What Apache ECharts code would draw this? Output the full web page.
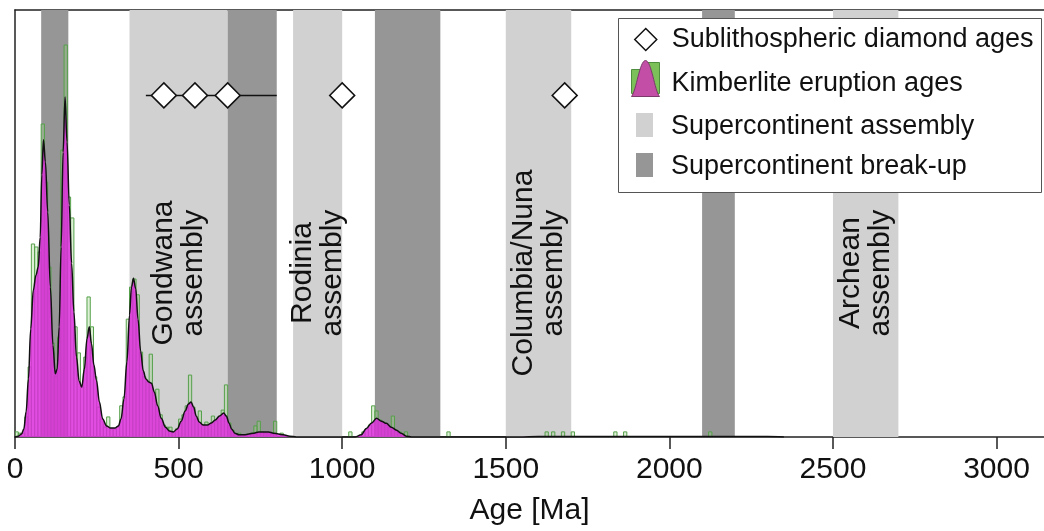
<!DOCTYPE html>
<html><head><meta charset="utf-8">
<script src="https://cdn.jsdelivr.net/npm/echarts@6/dist/echarts.min.js"></script>
<style>html,body{margin:0;padding:0;background:#fff}#c{width:1044px;height:531px}</style>
</head><body><div id="c"></div>
<script>
// ---- data ----
const binWidth = 10; // Ma
const histBinStarts = [0,10,20,30,40,50,60,70,80,90,100,110,120,130,140,150,160,170,180,190,
  200,210,220,230,240,250,260,270,280,290,300,310,320,330,340,350,360,370,380,390,
  400,410,420,430,440,450,460,470,480,490,500,510,520,530,540,550,560,570,580,590,
  600,610,620,630,640,650,660,670,680,690,710,720,730,740,750,760,780,790,810,
  1020,1060,1070,1080,1090,1100,1110,1120,1130,1140,1150,1160,1170,1180,1190,
  1320,1620,1640,1670,1700,1830,1860,2120];
const histCounts = [1.2,0.9,0.9,4.7,16.4,45.2,44.5,43.3,73.3,59.7,39.8,22.0,14.1,23.4,67.2,91.8,56.2,51.3,25.8,19.7,
  11.7,18.7,32.8,25.8,14.1,7.0,4.2,2.3,4.7,1.9,1.9,2.3,7.3,9.4,27.6,35.1,37.0,33.3,19.9,14.1,
  12.9,19.4,10.5,11.2,5.2,2.8,2.3,2.3,1.2,1.9,4.2,5.2,7.3,14.5,7.0,4.2,6.1,2.8,3.5,2.8,
  4.9,3.7,4.7,6.3,12.2,3.3,1.6,0.7,0.9,0.5,0.7,0.9,2.6,3.7,1.2,0.9,0.7,3.7,0.9,
  1.2,1.2,1.9,2.8,7.3,6.1,4.0,3.5,2.8,2.3,4.9,1.6,1.2,0.7,1.2,
  1.2,1.2,1.2,1.2,1.2,1.2,1.2,1.2];

const kdeAges = [0,10,20,27,34,41,48,56,64,71,77,82,87,93,100,108,116,123,129,135,141,147,153,159,166,173,180,188,196,
  204,212,220,227,234,241,249,258,268,280,292,305,316,324,333,342,350,356,362,369,376,384,392,400,409,417,426,436,447,
  460,472,484,496,508,520,530,538,546,554,563,575,588,600,612,625,638,646,654,662,672,685,700,715,730,745,760,775,790,
  805,820,840,860,1040,1058,1074,1090,1105,1120,1135,1150,1166,1180,1196,1212,1540,1600,1700,1900,2100,2300,2350];
const kdeDensity = [0,0.2,0.7,1.9,5.9,13.6,25.3,34.4,37.9,39.8,46.8,61.4,69.6,64.4,52.7,35.1,21.5,14.8,15.9,25.8,44.5,66.7,79.6,69.1,54.3,40.7,29.3,18.7,13.1,
  11.7,15.9,23.0,25.8,21.8,16.9,13.3,8.2,4.2,2.6,2.1,2.1,2.6,4.2,8.9,17.6,28.6,35.1,37.2,34.7,27.6,20.1,15.5,13.6,12.9,12.6,10.5,7.3,4.4,
  2.3,1.4,1.2,1.9,3.7,6.1,7.7,8.2,7.0,4.9,3.5,2.8,2.8,3.3,4.0,4.9,5.6,4.9,3.3,1.9,0.9,0.5,0.5,0.7,0.9,1.2,1.2,1.2,0.9,
  0.7,0.5,0.2,0,0,0.5,2.0,3.3,4.4,3.7,3.2,2.3,1.6,0.9,0.2,0,0,0.1,0.1,0.1,0.1,0.1,0];

const diamondAges = [455, 550, 650, 1000, 1680];
const diamondLevel = 80;
const diamondRangeAges = [400, 800];

const assemblyBands = [[350, 650], [850, 1000], [1500, 1700], [2500, 2700]];
const breakupBands = [[80, 163], [650, 800], [1100, 1300], [2100, 2200]];

const bandLabelTexts = ['Gondwana\nassembly', 'Rodinia\nassembly', 'Columbia/Nuna\nassembly', 'Archean\nassembly'];
const bandLabelAges = [500, 925, 1600, 2600];
const bandLabelLevel = 38.4;

const xMin = 0, xMax = 3145, xInterval = 500;
const yMax = 100;

const names = {
  diamond: 'Sublithospheric diamond ages',
  kde: 'Kimberlite eruption ages',
  hist: 'Kimberlite histogram',
  asm: 'Supercontinent assembly',
  brk: 'Supercontinent break-up'
};

// ---- build ----
const FONT = "'Liberation Sans', Arial, sans-serif";
const histData = histBinStarts.map((s, i) => [s, histCounts[i]]);
const kdeData = kdeAges.map((a, i) => [a, kdeDensity[i]]);
const diamondData = diamondAges.map(a => [a, diamondLevel]);
const rangeData = diamondRangeAges.map(a => [a, diamondLevel]);
const labelData = bandLabelAges.map((a, i) => [a, bandLabelLevel, bandLabelTexts[i]]);

const chart = echarts.init(document.getElementById('c'), null, {renderer: 'canvas'});
const legendText = (padLeft) => ({fontFamily: FONT, fontSize: 27, color: '#111', padding: [0, 0, 0, padLeft]});
const legendBase = {orient: 'vertical', selectedMode: false, z: 120, padding: 0};
chart.setOption({
  animation: false,
  backgroundColor: '#fff',
  grid: {left: 15, right: 0, top: 10, bottom: 94},
  xAxis: [{
    type: 'value', min: xMin, max: xMax, interval: xInterval, position: 'bottom',
    name: 'Age [Ma]', nameLocation: 'middle', nameGap: 59,
    nameTextStyle: {fontFamily: FONT, fontSize: 30, color: '#111'},
    axisLine: {show: true, lineStyle: {color: '#222', width: 1.5}},
    axisTick: {show: true, length: 12, lineStyle: {color: '#222', width: 1.5}},
    axisLabel: {fontFamily: FONT, fontSize: 30, color: '#111', margin: 18, showMaxLabel: false,
      formatter: v => String(v)},
    splitLine: {show: false}
  }, {
    type: 'value', min: xMin, max: xMax, interval: xInterval, position: 'top',
    axisLine: {show: true, lineStyle: {color: '#222', width: 1.5}},
    axisTick: {show: false}, axisLabel: {show: false}, splitLine: {show: false}
  }],
  yAxis: {
    type: 'value', min: 0, max: yMax,
    axisLine: {show: true, lineStyle: {color: '#222', width: 1.5}},
    axisTick: {show: false}, axisLabel: {show: false}, splitLine: {show: false}
  },
  legend: [
    Object.assign({}, legendBase, {
      data: [names.diamond], left: 634, top: 26, itemWidth: 22, itemHeight: 22,
      icon: 'diamond',
      itemStyle: {color: '#fff', borderColor: '#111', borderWidth: 1.5},
      textStyle: legendText(10)
    }),
    Object.assign({}, legendBase, {
      data: [names.hist], left: 631, top: 60, itemWidth: 28, itemHeight: 47, z: 115,
      icon: 'path://M0,47 M0,36 L0,12 L13,12 L13,5 L28,5 L28,36 Z',
      itemStyle: {color: '#7cc05a', borderColor: '#4e8f3e', borderWidth: 1},
      formatter: () => '',
      textStyle: legendText(0)
    }),
    Object.assign({}, legendBase, {
      data: [names.kde], left: 631, top: 60, itemWidth: 28, itemHeight: 47,
      icon: 'path://M0,47 M0,36 C5,30 8,0 14,0 C20,0 23,30 28,36 Z',
      itemStyle: {color: '#c24ea6', borderColor: '#7a3a6a', borderWidth: 1},
      textStyle: legendText(7)
    }),
    Object.assign({}, legendBase, {
      data: [names.asm], left: 636, top: 113, itemWidth: 17, itemHeight: 28,
      icon: 'path://M0,28 M0,0 L17,0 L17,24 L0,24 Z', itemStyle: {color: '#d1d1d1', borderWidth: 0},
      textStyle: legendText(13)
    }),
    Object.assign({}, legendBase, {
      data: [names.brk], left: 636, top: 153, itemWidth: 17, itemHeight: 28,
      icon: 'path://M0,28 M0,0 L17,0 L17,24 L0,24 Z', itemStyle: {color: '#969696', borderWidth: 0},
      textStyle: legendText(13)
    })
  ],
  graphic: [{
    type: 'rect', z: 100, silent: true,
    shape: {x: 618.5, y: 18.5, width: 423, height: 174},
    style: {fill: '#fff', stroke: '#555', lineWidth: 1}
  }],
  series: [
    {
      name: names.asm, type: 'line', data: [], z: 1, silent: true,
      itemStyle: {color: '#d1d1d1'},
      markArea: {silent: true, itemStyle: {color: '#d1d1d1'},
        data: assemblyBands.map(b => [{xAxis: b[0]}, {xAxis: b[1]}])}
    },
    {
      name: names.brk, type: 'line', data: [], z: 1, silent: true,
      itemStyle: {color: '#969696'},
      markArea: {silent: true, itemStyle: {color: '#969696'},
        data: breakupBands.map(b => [{xAxis: b[0]}, {xAxis: b[1]}])}
    },
    {
      name: names.hist, type: 'custom', z: 2, silent: true, clip: true,
      itemStyle: {color: '#7cc05a'},
      data: histData,
      encode: {x: 0, y: 1},
      renderItem: function (params, api) {
        const s = api.value(0), c = api.value(1);
        const p0 = api.coord([s, c]);
        const p1 = api.coord([s + binWidth, 0]);
        return {
          type: 'rect',
          shape: {x: p0[0], y: p0[1], width: p1[0] - p0[0], height: p1[1] - p0[1]},
          style: {fill: 'rgba(160,215,140,0.35)', stroke: '#55a04a', lineWidth: 1}
        };
      }
    },
    {
      name: names.kde, type: 'line', z: 3, silent: true,
      data: kdeData, smooth: 0.35, smoothMonotone: 'x', showSymbol: false, symbol: 'none',
      itemStyle: {color: '#e028e0'},
      lineStyle: {color: '#111', width: 1.5},
      areaStyle: {color: 'rgba(226,40,226,0.82)', opacity: 1}
    },
    {
      name: 'range', type: 'line', z: 4, silent: true,
      data: rangeData, symbol: 'none',
      lineStyle: {color: '#111', width: 1.5}
    },
    {
      name: names.diamond, type: 'scatter', z: 5, silent: true,
      data: diamondData, symbol: 'diamond', symbolSize: [25, 25],
      itemStyle: {color: '#fff', borderColor: '#111', borderWidth: 1.5, opacity: 1}
    },
    {
      name: 'bandLabels', type: 'scatter', z: 6, silent: true,
      data: labelData, symbolSize: 0,
      itemStyle: {color: '#111', opacity: 1},
      label: {
        show: true, position: 'inside', rotate: 90,
        formatter: p => p.data[2],
        fontFamily: FONT, fontSize: 30, lineHeight: 30, color: '#111', align: 'center',
        textBorderWidth: 0, textBorderColor: 'transparent', opacity: 1
      }
    }
  ]
});
</script></body></html>
